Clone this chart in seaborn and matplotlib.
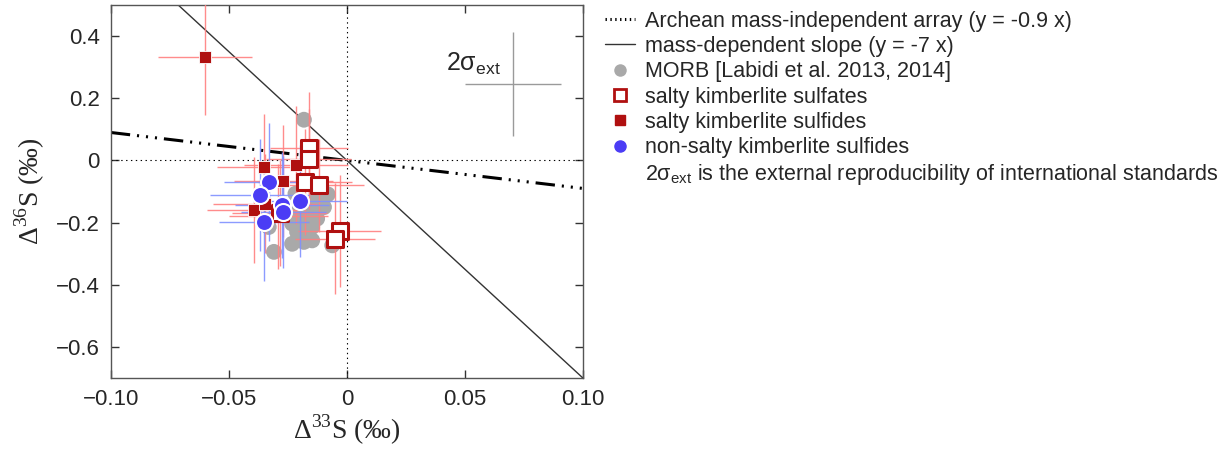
import matplotlib
matplotlib.use("Agg")
import matplotlib.pyplot as plt
from matplotlib.lines import Line2D
import numpy as np
import pandas as pd
import seaborn as sns

# MORB (Labidi et al.)
morb_x = [-0.0182, -0.0081, -0.0105, -0.0133, -0.0140, -0.0126, -0.0147, -0.0175,
          -0.0211, -0.0232, -0.0246, -0.0211, -0.0168, -0.0161, -0.0196, -0.0232,
          -0.0182, -0.0147, -0.0062, -0.0309, -0.0331, -0.0218, -0.0119, -0.0097]
morb_y = [0.131, -0.109, -0.096, -0.128, -0.161, -0.187, -0.214, -0.230,
          -0.230, -0.203, -0.171, -0.150, -0.150, -0.182, -0.193, -0.268,
          -0.262, -0.257, -0.273, -0.294, -0.214, -0.107, -0.118, -0.150]

# salty kimberlite sulfates (open squares)
sulfate_x = [-0.0161, -0.0161, -0.0178, -0.0119, -0.0031, -0.0051, -0.0285]
sulfate_y = [0.040, 0.005, -0.070, -0.080, -0.228, -0.251, -0.168]
sulfate_xerr = [0.0165, 0.018, 0.020, 0.019, 0.0175, 0.017, 0.020]
sulfate_yerr = [0.18, 0.16, 0.17, 0.15, 0.18, 0.18, 0.17]

# salty kimberlite sulfides (filled squares)
sulfide_x = [-0.0602, -0.0352, -0.0215, -0.0270, -0.0394, -0.0345, -0.0290]
sulfide_y = [0.332, -0.021, -0.014, -0.067, -0.160, -0.139, -0.180]
sulfide_xerr = [0.020, 0.020, 0.022, 0.021, 0.020, 0.022, 0.021]
sulfide_yerr = [0.185, 0.17, 0.19, 0.18, 0.17, 0.16, 0.17]

# non-salty kimberlite sulfides (blue circles)
nonsalty_x = [-0.0331, -0.0370, -0.0352, -0.0274, -0.0270, -0.0199]
nonsalty_y = [-0.070, -0.110, -0.198, -0.144, -0.166, -0.131]
nonsalty_xerr = [0.019, 0.021, 0.019, 0.020, 0.018, 0.020]
nonsalty_yerr = [0.19, 0.18, 0.19, 0.17, 0.18, 0.18]

x_ticks = [-0.10, -0.05, 0, 0.05, 0.10]
x_ticklabels = ["\u22120.10", "\u22120.05", "0", "0.05", "0.10"]
y_ticks = [0.4, 0.2, 0, -0.2, -0.4, -0.6]
y_ticklabels = ["0.4", "0.2", "0", "\u22120.2", "\u22120.4", "\u22120.6"]

sns.set_style("ticks")
plt.rcParams["font.family"] = ["Liberation Sans", "DejaVu Sans"]
plt.rcParams["lines.scale_dashes"] = False

fig = plt.figure(figsize=(12.31, 4.55), dpi=100)
ax = fig.add_axes([0.090, 0.169, 0.3836, 0.820])

red_err = "#ff8080"
blue_err = "#8090ff"
dark_red = "#b01010"
blue = "#4b3cf5"

# reference lines
xl = np.array([-0.1, 0.1])
ax.plot(xl, -0.9 * xl, color="black", lw=2.2, dashes=(14, 5, 1.5, 5, 1.5, 5, 1.5, 5), zorder=2)
ax.plot(xl, -7 * xl, color="#333333", lw=1.0, zorder=2)
ax.axhline(0, color="black", lw=0.8, ls=(0, (1, 2.5)), zorder=1)
ax.axvline(0, color="black", lw=0.8, ls=(0, (1, 2.5)), zorder=1)

# MORB
morb = pd.DataFrame({"x": morb_x, "y": morb_y})
sns.scatterplot(data=morb, x="x", y="y", ax=ax, color="#a9a9a9", s=130,
                edgecolor="none", zorder=3, legend=False)

# error bars
ax.errorbar(sulfate_x, sulfate_y, xerr=sulfate_xerr, yerr=sulfate_yerr, fmt="none",
            ecolor=red_err, elinewidth=1.0, capsize=0, alpha=0.9, zorder=4)
ax.errorbar(sulfide_x, sulfide_y, xerr=sulfide_xerr, yerr=sulfide_yerr, fmt="none",
            ecolor=red_err, elinewidth=1.0, capsize=0, alpha=0.9, zorder=4)
ax.errorbar(nonsalty_x, nonsalty_y, xerr=nonsalty_xerr, yerr=nonsalty_yerr, fmt="none",
            ecolor=blue_err, elinewidth=1.0, capsize=0, alpha=0.9, zorder=4)

sulf = pd.DataFrame({"x": sulfide_x, "y": sulfide_y})
sns.scatterplot(data=sulf, x="x", y="y", ax=ax, marker="s", color=dark_red, s=75,
                edgecolor="white", linewidth=0.6, zorder=5, legend=False)
sulfa = pd.DataFrame({"x": sulfate_x, "y": sulfate_y})
sns.scatterplot(data=sulfa, x="x", y="y", ax=ax, marker="s", color="white", s=120,
                edgecolor=dark_red, linewidth=2.2, zorder=6, legend=False)
ns = pd.DataFrame({"x": nonsalty_x, "y": nonsalty_y})
sns.scatterplot(data=ns, x="x", y="y", ax=ax, marker="o", color=blue, s=150,
                edgecolor="white", linewidth=1.5, zorder=7, legend=False)

# 2 sigma ext cross
ax.errorbar([0.0703], [0.247], xerr=[0.0203], yerr=[0.167], fmt="none",
            ecolor="#9a9a9a", elinewidth=1.0, capsize=0, zorder=4)
ax.text(0.042, 0.31, "2\u03c3$_\\mathregular{ext}$", fontsize=18, ha="left", va="center")

ax.set_xlim(-0.1, 0.1)
ax.set_ylim(-0.7, 0.5)
ax.set_xticks(x_ticks)
ax.set_xticklabels(x_ticklabels)
ax.set_yticks(y_ticks)
ax.set_yticklabels(y_ticklabels)
ax.tick_params(direction="in", length=6, width=1, top=True, right=True,
               labelsize=16, color="#333333", pad=8)
for sp in ax.spines.values():
    sp.set_color("#555555")
    sp.set_linewidth(1.0)

ax.set_xlabel("\u0394$^\\mathregular{33}$S (\u2030)", fontsize=20,
              family=["Liberation Serif", "DejaVu Serif"], labelpad=2)
ax.set_ylabel("\u0394$^\\mathregular{36}$S (\u2030)", fontsize=20,
              family=["Liberation Serif", "DejaVu Serif"], labelpad=6)

handles = [
    Line2D([], [], color="black", lw=2.2, ls=(0, (1, 2.5))),
    Line2D([], [], color="#333333", lw=1.0),
    Line2D([], [], marker="o", color="#a9a9a9", ls="none", markersize=9, markeredgecolor="none"),
    Line2D([], [], marker="s", color="white", ls="none", markersize=9,
           markeredgecolor=dark_red, markeredgewidth=2),
    Line2D([], [], marker="s", color=dark_red, ls="none", markersize=7, markeredgecolor=dark_red),
    Line2D([], [], marker="o", color=blue, ls="none", markersize=8, markeredgecolor=blue),
    Line2D([], [], ls="none"),
]
labels = [
    "Archean mass-independent array (y = -0.9 x)",
    "mass-dependent slope (y = -7 x)",
    "MORB [Labidi et al. 2013, 2014]",
    "salty kimberlite sulfates",
    "salty kimberlite sulfides",
    "non-salty kimberlite sulfides",
    "2\u03c3$_\\mathregular{ext}$ is the external reproducibility of international standards",
]
fig.legend(handles, labels, loc="upper left", bbox_to_anchor=(0.481, 1.005),
           frameon=False, fontsize=15.5, handlelength=1.4, handletextpad=0.45,
           labelspacing=0.2, borderaxespad=0.2)

fig.savefig("out.png", dpi=100)
